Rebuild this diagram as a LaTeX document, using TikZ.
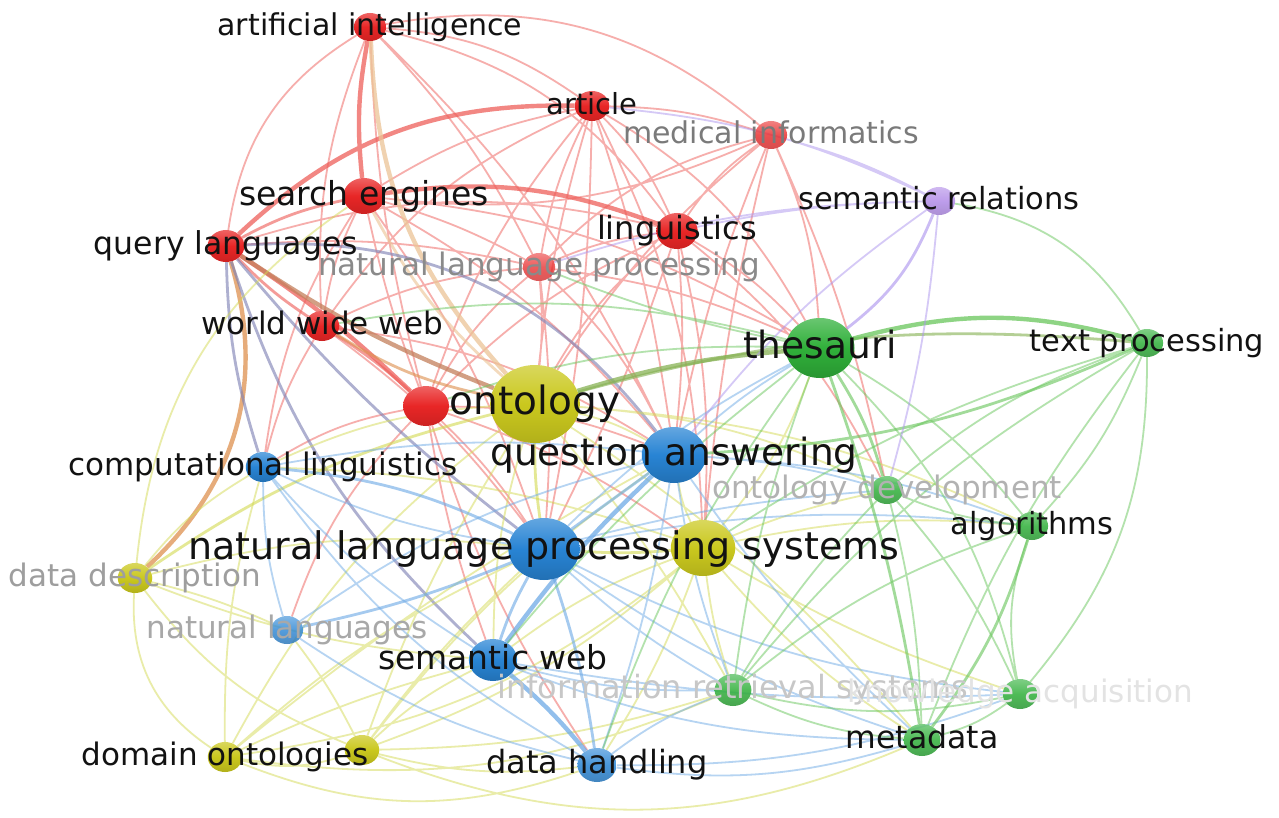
\documentclass[tikz,border=0pt]{standalone}
\usepackage{fontspec}
\setmainfont{DejaVu Sans}
\usetikzlibrary{shapes.geometric,backgrounds}
\definecolor{vred}{RGB}{232,38,38}
\definecolor{vyel}{RGB}{202,200,30}
\definecolor{vblue}{RGB}{40,132,212}
\definecolor{vgreen}{RGB}{48,176,58}
\definecolor{vpur}{RGB}{178,140,232}
\definecolor{cred}{RGB}{238,95,90}
\definecolor{cyel}{RGB}{212,218,85}
\definecolor{cblue}{RGB}{110,170,230}
\definecolor{cgrn}{RGB}{105,198,92}
\definecolor{cpur}{RGB}{172,148,238}
\definecolor{ctan}{RGB}{236,196,150}
\definecolor{corg}{RGB}{222,145,80}
\definecolor{cbrn}{RGB}{196,128,92}
\definecolor{cslt}{RGB}{125,128,180}
\definecolor{colv}{RGB}{135,178,85}
\definecolor{labk}{RGB}{18,18,18}
\tikzset{bub/.style={ellipse,inner sep=0pt,minimum height=2*#1pt,minimum width=2.3*#1pt},
 rd/.style={top color=vred!72!white,bottom color=vred!88!black,middle color=vred},
 yl/.style={top color=vyel!72!white,bottom color=vyel!88!black,middle color=vyel},
 bl/.style={top color=vblue!72!white,bottom color=vblue!85!black,middle color=vblue},
 gr/.style={top color=vgreen!72!white,bottom color=vgreen!85!black,middle color=vgreen},
 pu/.style={top color=vpur!72!white,bottom color=vpur!88!black,middle color=vpur},
 lab/.style={font=\fontsize{#1}{#1}\selectfont,anchor=base,yshift=-0.28*#1pt,inner sep=0pt,text=labk},
 ln/.style={draw=#1,draw opacity=0.5,line width=1.8pt},
 md/.style={draw=#1,draw opacity=0.62,line width=2.8pt},
 tk/.style={draw=#1,draw opacity=0.75,line width=4.4pt}}
\begin{document}
\begin{tikzpicture}[x=1pt,y=1pt]
\useasboundingbox (0,0) rectangle (1279,-818);
% red cluster
\node[bub=14,rd] (ai) at (370,-27) {};
\node[bub=15,rd] (art) at (592,-106) {};
\node[bub=14,rd,opacity=0.8] (med) at (771,-135) {};
\node[bub=18,rd] (se) at (364,-196) {};
\node[bub=18,rd] (ling) at (677,-231) {};
\node[bub=16,rd] (ql) at (226,-246) {};
\node[bub=14,rd,opacity=0.75] (nlp) at (539,-267) {};
\node[bub=15,rd] (www) at (322,-326) {};
\node[bub=20,rd] (rn) at (426,-406) {};
% yellow cluster
\node[bub=39,yl] (onto) at (535,-404) {};
\node[bub=28,yl] (ys) at (703,-548) {};
\node[bub=15,yl] (dd) at (135,-578) {};
\node[bub=15,yl] (dom) at (225,-757) {};
\node[bub=15,yl] (yd) at (362,-750) {};
% blue cluster
\node[bub=28,bl] (qa) at (674,-455) {};
\node[bub=15,bl] (cl) at (263,-467) {};
\node[bub=31,bl] (nlps) at (544,-549) {};
\node[bub=14,bl,opacity=0.8] (nls) at (287,-630) {};
\node[bub=21,bl] (sw) at (493,-660) {};
\node[bub=17,bl,opacity=0.85] (dh) at (597,-765) {};
% green cluster
\node[bub=30,gr] (the) at (820,-348) {};
\node[bub=14,gr,opacity=0.85] (tp) at (1147,-343) {};
\node[bub=14,gr,opacity=0.85] (od) at (887,-490) {};
\node[bub=14,gr,opacity=0.85] (alg) at (1032,-526) {};
\node[bub=16,gr,opacity=0.85] (irs) at (733,-690) {};
\node[bub=15,gr,opacity=0.85] (ka) at (1020,-694) {};
\node[bub=16,gr,opacity=0.85] (meta) at (922,-740) {};
% purple cluster
\node[bub=14,pu,opacity=0.85] (sr) at (939,-201) {};

\begin{scope}[on background layer]
\fill[white] (0,0) rectangle (1279,-818);
% red links
\draw[ln=cred] (ai) to[bend left=15] (art) (ai) to[bend left=20] (ling) (ai) to[bend left=25] (med)
 (ai) to[bend right=25] (ql) (ai) to[bend right=12] (www) (ai) to[bend left=8] (nlp) (ai) to[bend right=6] (rn)
 (ai) to[bend left=10] (qa) (art) to[bend left=8] (med) (art) to[bend left=10] (ling) (art) to[bend right=10] (se)
 (art) to[bend right=8] (nlp) (art) to[bend right=15] (www) (art) to[bend right=10] (rn) (art) to[bend right=5] (onto)
 (art) to[bend left=15] (the) (art) to[bend left=5] (qa) (art) to[bend left=5] (nlps) (art) to[bend left=12] (ys)
 (med) to[bend right=10] (ling) (med) to[bend left=10] (the) (med) to[bend right=15] (nlp) (med) to[bend right=8] (onto)
 (med) to[bend right=5] (qa) (med) to[bend left=6] (od) (med) to[bend right=4] (ys) (med) to[bend left=15] (se)
 (se) to[bend right=8] (www) (se) to[bend left=6] (nlp) (se) to[bend left=10] (qa) (se) to[bend left=8] (nlps)
 (se) to[bend left=12] (the) (se) to[bend right=12] (cl) (se) to[bend right=4] (rn)
 (ling) to[bend right=8] (nlp) (ling) to[bend left=8] (the) (ling) to[bend right=10] (onto) (ling) to[bend left=5] (qa)
 (ling) to[bend right=10] (rn) (ling) to[bend left=4] (nlps) (ling) to[bend left=8] (ys) (ling) to[bend left=12] (od)
 (ling) to[bend right=15] (ql) (nlp) to[bend right=10] (rn) (nlp) to[bend left=5] (onto) (nlp) to[bend left=8] (the)
 (nlp) to[bend left=10] (qa) (nlp) to[bend left=5] (nlps) (nlp) to[bend right=10] (www) (nlp) to[bend right=8] (ql)
 (www) to[bend left=8] (nlps) (www) to[bend right=8] (cl) (www) to[bend left=12] (qa)
 (rn) to[bend left=6] (nlps) (rn) to[bend right=10] (cl) (rn) to[bend right=5] (sw) (rn) to[bend left=10] (qa)
 (rn) to[bend right=8] (dh) (rn) to[bend left=8] (ys) (rn) to[bend right=12] (nls);
\draw[md=cred] (ql) to[bend left=8] (se) (www) to[bend left=5] (rn) (ql) to[bend right=6] (www);
\draw[tk=cred] (ai) to[bend right=8] (se) (ql) to[bend left=22] (art) (se) to[bend left=14] (ling) (ql) to[bend left=5] (rn);
% mixed links
\draw[tk=ctan] (ai) to[bend right=20] (onto);
\draw[md=ctan] (se) to[bend right=10] (onto);
\draw[tk=cbrn] (ql) to[bend right=6] (onto);
\draw[md=corg] (www) to[bend right=10] (onto);
\draw[tk=corg] (dd) to[bend right=32] (ql);
\draw[md=cslt] (ql) to[bend right=6] (nlps) (ql) to[bend right=14] (sw) (ql) to[bend right=8] (cl) (ql) to[bend left=28] (qa);
\draw[tk=colv] (onto) to[bend left=6] (the);
\draw[md=colv] (onto) to[bend left=10] (tp);
% yellow links
\draw[ln=cyel] (onto) to[bend left=8] (qa) (onto) to[bend right=10] (cl) (onto) to[bend right=8] (sw)
 (onto) to[bend right=12] (dom) (onto) to[bend right=6] (yd) (onto) to[bend left=10] (od) (onto) to[bend left=5] (irs)
 (onto) to[bend left=8] (meta) (onto) to[bend left=10] (alg) (ys) to[bend left=8] (qa) (ys) to[bend right=8] (sw)
 (ys) to[bend left=6] (dh) (ys) to[bend right=5] (irs) (ys) to[bend right=10] (the) (ys) to[bend left=5] (od)
 (ys) to[bend right=8] (meta) (ys) to[bend left=8] (alg) (ys) to[bend right=6] (ka) (ys) to[bend left=10] (yd)
 (ys) to[bend left=15] (dom) (ys) to[bend right=8] (cl) (dd) to[bend right=30] (dom) (dd) to[bend right=15] (yd)
 (dd) to[bend left=5] (nls) (dd) to[bend left=10] (cl) (dd) to[bend left=10] (nlps) (dd) to[bend right=8] (sw)
 (dd) to[bend left=25] (se) (dom) to[bend right=15] (yd) (dom) to[bend left=8] (nlps) (dom) to[bend left=5] (sw)
 (dom) to[bend left=8] (cl) (dom) to[bend right=20] (dh) (dom) to[bend right=15] (irs) (dom) to[bend left=5] (qa)
 (yd) to[bend left=5] (nlps) (yd) to[bend left=8] (sw) (yd) to[bend right=10] (dh) (yd) to[bend right=8] (irs)
 (yd) to[bend right=22] (meta) (yd) to[bend left=8] (qa) (yd) to[bend right=5] (nls);
\draw[md=cyel] (ys) to[bend left=4] (nlps) (onto) to[bend right=4] (nlps) (dd) to[bend left=10] (onto);
% blue links
\draw[ln=cblue] (qa) to[bend right=8] (cl) (qa) to[bend left=5] (dh) (qa) to[bend left=5] (the) (qa) to[bend left=6] (od)
 (qa) to[bend right=6] (irs) (qa) to[bend left=8] (alg) (qa) to[bend right=6] (meta) (qa) to[bend right=10] (nls)
 (nlps) to[bend left=8] (cl) (nlps) to[bend right=6] (irs) (nlps) to[bend left=8] (the) (nlps) to[bend right=8] (meta)
 (nlps) to[bend left=5] (od) (nlps) to[bend right=10] (ka) (nlps) to[bend left=8] (alg) (sw) to[bend right=8] (irs)
 (sw) to[bend right=10] (meta) (sw) to[bend left=8] (cl) (sw) to[bend right=6] (ka) (cl) to[bend right=8] (nls)
 (cl) to[bend right=12] (dh) (nls) to[bend right=10] (dh) (dh) to[bend left=8] (irs) (dh) to[bend right=12] (meta)
 (dh) to[bend right=10] (ka);
\draw[md=cblue] (nlps) to[bend right=5] (sw) (nlps) to[bend left=5] (dh) (qa) to (nlps) (nlps) to[bend left=5] (nls)
 (cl) to[bend left=10] (nlps);
\draw[tk=cblue] (sw) to[bend left=5] (dh) (qa) to[bend right=5] (sw);
% green links
\draw[ln=cgrn] (the) to[bend left=10] (alg) (the) to[bend right=6] (irs) (the) to[bend left=15] (ka)
 (tp) to[bend left=10] (alg) (tp) to[bend left=20] (ka) (tp) to[bend right=8] (meta) (tp) to[bend right=10] (od)
 (tp) to[bend right=10] (irs) (tp) to[bend right=8] (ys) (od) to[bend right=8] (alg) (od) to[bend right=6] (irs)
 (od) to[bend left=6] (meta) (od) to[bend left=8] (ka) (alg) to[bend right=15] (ka) (alg) to[bend right=10] (irs)
 (irs) to[bend right=10] (meta) (irs) to[bend right=12] (ka) (ka) to[bend left=10] (meta) (the) to[bend right=10] (rn)
 (the) to[bend right=6] (sw) (the) to[bend right=8] (dh) (the) to[bend right=12] (www) (the) to[bend left=5] (nlp)
 (sr) to[bend left=25] (tp);
\draw[md=cgrn] (the) to[bend left=8] (od) (the) to[bend left=5] (meta) (alg) to[bend left=10] (meta)
 (qa) to[bend right=10] (tp);
\draw[tk=cgrn] (the) to[bend left=15] (tp);
% purple links
\draw[ln=cpur] (sr) to[bend right=8] (qa) (sr) to[bend right=6] (med) (sr) to[bend right=10] (art)
 (sr) to[bend right=5] (ling) (sr) to[bend right=8] (nlp) (sr) to[bend left=5] (od);
\draw[md=cpur] (sr) to[bend left=15] (the);
\end{scope}

% labels
\node[lab=30] (ai-l) at (ai) {artificial intelligence};
\node[lab=29] (art-l) at (art) {article};
\node[lab=30,text=black!52] (med-l) at (med) {medical informatics};
\node[lab=33] (se-l) at (se) {search engines};
\node[lab=32] (ling-l) at (ling) {linguistics};
\node[lab=31.5] (ql-l) at (ql) {query languages};
\node[lab=31,text=black!46] (nlp-l) at (nlp) {natural language processing};
\node[lab=31] (www-l) at (www) {world wide web};
\node[lab=39] (onto-l) at (onto) {ontology};
\node[lab=31,text=black!38] (dd-l) at (dd) {data description};
\node[lab=31] (dom-l) at (dom) {domain ontologies};
\node[lab=37.5] (qa-l) at (qa) {question answering};
\node[lab=31] (cl-l) at (cl) {computational linguistics};
\node[lab=38] (nlps-l) at (nlps) {natural language processing systems};
\node[lab=31,text=black!34] (nls-l) at (nls) {natural languages};
\node[lab=33] (sw-l) at (sw) {semantic web};
\node[lab=32] (dh-l) at (dh) {data handling};
\node[lab=37.5] (the-l) at (the) {thesauri};
\node[lab=30.5] (tp-l) at (tp) {text processing};
\node[lab=31,text=black!30] (od-l) at (od) {ontology development};
\node[lab=30.5] (alg-l) at (alg) {algorithms};
\node[lab=32,text=black!22] (irs-l) at (irs) {information retrieval systems};
\node[lab=31,text=black!11] (ka-l) at (ka) {knowledge acquisition};
\node[lab=31.5] (meta-l) at (meta) {metadata};
\node[lab=30.5] (sr-l) at (sr) {semantic relations};
\end{tikzpicture}
\end{document}
